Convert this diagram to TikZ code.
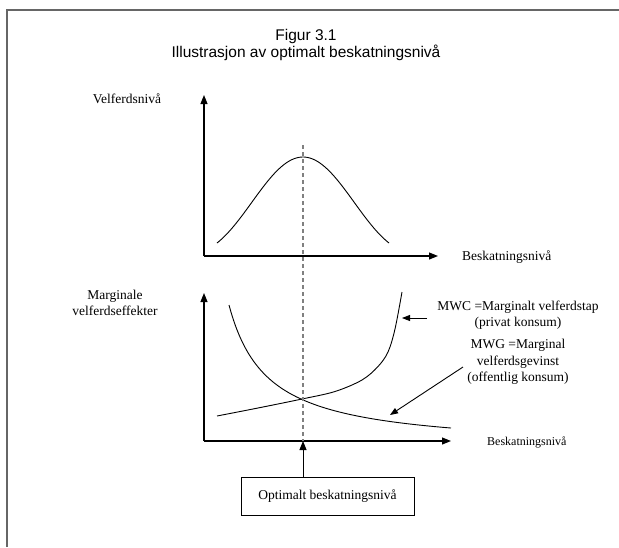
\documentclass[tikz,border=0pt]{standalone}
\usepackage{fontspec}
\setmainfont{Liberation Serif}
\newfontfamily\titlefont{Liberation Sans}
\usetikzlibrary{arrows.meta}

\begin{document}
\begin{tikzpicture}[x=1pt,y=-1pt,
  frameline/.style={line width=2pt, draw=black!60},
  axis/.style={line width=1.1pt, -{Triangle[length=9pt,width=7pt]}},
  pointer/.style={line width=0.9pt, -{Triangle[length=8pt,width=6pt]}},
  curve/.style={line width=0.9pt},
  optline/.style={line width=1.4pt, draw=black!50, dash pattern=on 4pt off 3pt},
  title/.style={font=\titlefont\fontsize{15.5}{17}\selectfont, align=center, inner sep=0pt},
  lbl/.style={font=\fontsize{13.5}{16.5}\selectfont, align=center, inner sep=0pt},
  smalllbl/.style={font=\fontsize{12}{14}\selectfont, inner sep=0pt},
  optbox/.style={draw, line width=0.9pt, minimum width=173pt, minimum height=38pt,
    font=\fontsize{13.5}{16}\selectfont}
]
\useasboundingbox (0,0) rectangle (619,547);
\fill[white] (0,0) rectangle (619,547);

% page frame (top and left edges)
\draw[frameline] (7,547) -- (7,10) -- (619,10);

% heading
\node[title] (head) at (306,45) {Figur 3.1\\Illustrasjon av optimalt beskatningsnivå};

% ---- upper panel: welfare level ----
\coordinate (uo) at (204,256);
\coordinate (uy) at (204,95);
\coordinate (ux) at (438,256);
\draw[axis] (uo) -- (uy);
\draw[axis] (uo) -- (ux);
\node[lbl, anchor=center] (ylabU) at (127,99) {Velferdsnivå};
\node[lbl, anchor=west] (xlabU) at (462,257) {Beskatningsnivå};

% welfare curve: an arch peaking at the optimum
\draw[curve, domain=217:389, samples=80, smooth]
  plot (\x, {243 - 43*cos(90*(\x-303)/86) - 21.5*(1+cos(180*(\x-303)/86))});
\coordinate (peak) at (303,145);

% ---- lower panel: marginal effects ----
\coordinate (lo) at (204,441);
\coordinate (ly) at (204,293);
\coordinate (lx) at (451,441);
\draw[axis] (lo) -- (ly);
\draw[axis] (lo) -- (lx);
\node[lbl] (ylabL) at (115,303) {Marginale\\velferdseffekter};
\node[smalllbl, anchor=west] (xlabL) at (487,442) {Beskatningsnivå};

% MWG: decreasing marginal welfare gain
\draw[curve, domain=229:451, samples=100, smooth]
  plot (\x, {449.4 - 5573/(\x-190.4)});
% MWC: rising marginal welfare cost
\draw[curve] plot[smooth, tension=0.55] coordinates {
  (217,416) (260,407.6) (302,399) (335,391.5) (362,380) (378,366.5)
  (388,352) (395,329) (402,292)};

% curve labels and pointers
\node[lbl] (mwc) at (518,315) {MWC =Marginalt velferdstap\\(privat konsum)};
\node[lbl] (mwg) at (518,362) {MWG =Marginal\\velferdsgevinst\\(offentlig konsum)};
\coordinate (mwcfrom) at (427,318);
\coordinate (mwcto) at (402,318);
\coordinate (mwgfrom) at (463,367);
\coordinate (mwgto) at (390,415);
\draw[pointer] (mwcfrom) -- (mwcto);
\draw[pointer] (mwgfrom) -- (mwgto);

% optimum marker
\coordinate (opt) at (303,441);
\draw[optline] (peak) -- (opt);
\node[optbox] (box) at (327.5,496) {Optimalt beskatningsnivå};
\draw[axis, line width=1pt] (box.north -| opt) -- (opt);
\end{tikzpicture}
\end{document}
